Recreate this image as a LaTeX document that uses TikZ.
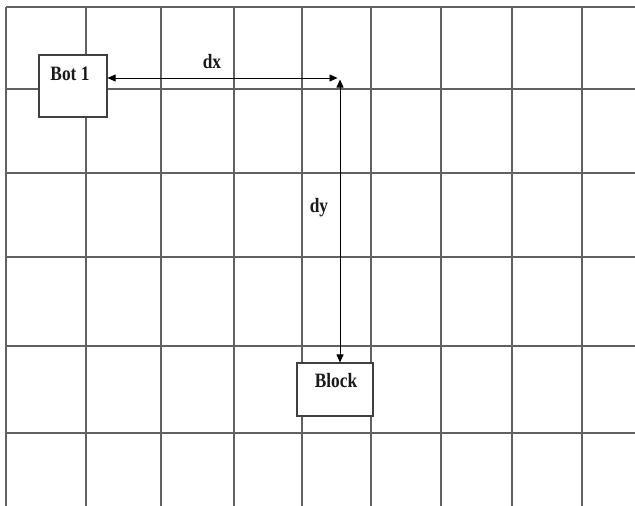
\documentclass[tikz,border=0pt]{standalone}
\usepackage{fontspec}
\usepackage{graphicx}
\setmainfont{Liberation Serif}
\usetikzlibrary{arrows.meta}
% labels are set a little taller than their natural shape
\newcommand{\tallbf}[1]{\scalebox{1.02}[1.2]{#1}}
\begin{document}
\begin{tikzpicture}[x=1pt,y=-1pt,
  gridline/.style={draw=black!62,line width=1.6pt},
  cellbox/.style={draw=black!75,line width=1.1pt,fill=white,inner sep=0pt},
  lbl/.style={font=\fontsize{17}{17}\selectfont\bfseries,inner sep=0pt,text=black!90},
  dist/.style={line width=0.8pt,{Triangle[length=8pt,width=7pt]}-{Triangle[length=8pt,width=7pt]}}]
  % canvas
  \useasboundingbox (0,0) rectangle (635,506);
  \fill[white] (0,0) rectangle (635,506);
  % field grid
  \foreach \gx in {6,86,161,234,302,371,441,512,582}
    \draw[gridline] (\gx,7) -- (\gx,506);
  \foreach \gy in {7,89,173,257,346,433}
    \draw[gridline] (6,\gy) -- (635,\gy);
  % robot and target
  \node[cellbox,minimum width=68pt,minimum height=62pt] (bot) at (73,86) {};
  \node[lbl] (bottxt) at (70,74) {\tallbf{Bot 1}};
  \node[cellbox,minimum width=76pt,minimum height=53pt] (block) at (335,389.5) {};
  \node[lbl] (blocktxt) at (336,381) {\tallbf{Block}};
  % offsets
  \coordinate (corner) at (340,78);
  \draw[dist,shorten >=2.5pt] (bot.east |- corner) -- (corner);
  \draw[dist,shorten <=1.5pt] (corner) -- (block.north -| corner);
  \node[lbl] (dxtxt) at (212,62) {\tallbf{dx}};
  \node[lbl] (dytxt) at (319,208) {\tallbf{dy}};
\end{tikzpicture}
\end{document}
